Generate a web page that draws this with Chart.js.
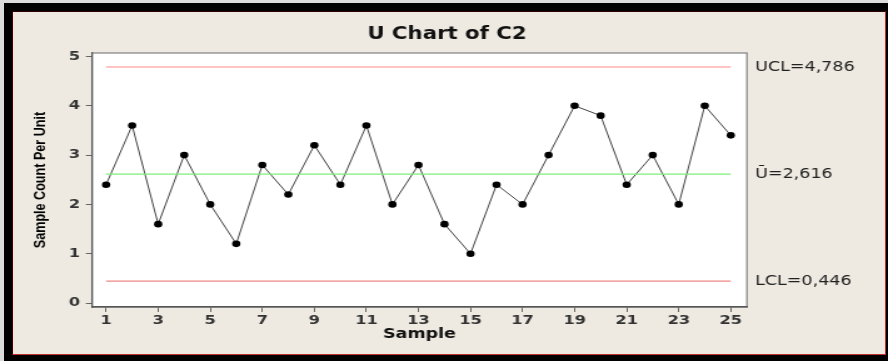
<!DOCTYPE html>
<html>
<head>
<meta charset="utf-8">
<script src="https://cdn.jsdelivr.net/npm/chart.js@4.4.1/dist/chart.umd.min.js"></script>
<style>
  html, body { margin: 0; padding: 0; width: 888px; height: 361px; overflow: hidden; background: #dcdcdc; }
  #frame { position: absolute; left: 4px; top: 3px; width: 884px; height: 358px; background: #000; }
  #panel { position: absolute; left: 12px; top: 11px; width: 874px; height: 344px; box-sizing: border-box;
           background: #eeeae1; border: 1px solid #c23030; border-left-color: #4a0000; border-top-color: #2a0000; }
  /* the reference screenshot is stretched sideways, so the canvas is drawn narrower and widened */
  #chart { position: absolute; left: 0; top: 0; width: 888px !important; height: 361px !important; }
</style>
</head>
<body>
<div id="frame"></div>
<div id="panel"></div>
<canvas id="chart" width="710" height="361"></canvas>
<script>
// data
const samples = [1, 2, 3, 4, 5, 6, 7, 8, 9, 10, 11, 12, 13, 14, 15, 16, 17, 18, 19, 20, 21, 22, 23, 24, 25];
const uValues = [2.4, 3.6, 1.6, 3.0, 2.0, 1.2, 2.8, 2.2, 3.2, 2.4, 3.6, 2.0, 2.8, 1.6, 1.0, 2.4, 2.0, 3.0, 4.0, 3.8, 2.4, 3.0, 2.0, 4.0, 3.4];
const xTickValues = [1, 3, 5, 7, 9, 11, 13, 15, 17, 19, 21, 23, 25];
const yTickValues = [0, 1, 2, 3, 4, 5];
const limitValues = [4.786, 2.616, 0.446];
const limitLabels = ['UCL=4,786', '\u016A=2,616', 'LCL=0,446'];
const limitColors = ['#ffb0b0', '#7cf07c', '#ee8888'];
const limitWidths = [1.6, 1.2, 1.2];

const points = samples.map((s, i) => ({ x: s, y: uValues[i] }));

function limitLine(v) {
    return [{ x: samples[0], y: v }, { x: samples[samples.length - 1], y: v }];
}

const limitSets = limitValues.map((v, i) => ({
    data: limitLine(v),
    borderColor: limitColors[i],
    borderWidth: limitWidths[i],
    pointRadius: 0,
    showLine: true,
    fill: false
}));

const plotBox = {
    id: 'plotBox',
    beforeDraw(chart) {
        const { ctx, chartArea: a } = chart;
        ctx.save();
        ctx.fillStyle = '#ffffff';
        ctx.fillRect(a.left, a.top, a.right - a.left, a.bottom - a.top);
        ctx.strokeStyle = '#8a8a8a';
        ctx.lineWidth = 1.3;
        ctx.strokeRect(a.left, a.top, a.right - a.left, a.bottom - a.top);
        ctx.restore();
    }
};

const tickFont = { family: 'DejaVu Sans', size: 13, weight: 'bold' };

new Chart(document.getElementById('chart'), {
    type: 'scatter',
    data: {
        datasets: [
            ...limitSets,
            {
                data: points,
                showLine: true,
                borderColor: '#444',
                borderWidth: 1,
                pointRadius: 3.3,
                pointBackgroundColor: '#000',
                pointBorderColor: '#000',
                pointBorderWidth: 0
            }
        ]
    },
    options: {
        responsive: false,
        animation: false,
        layout: { padding: { top: 11, left: 25.3, right: 20.5, bottom: 18.6 } },
        plugins: {
            legend: { display: false },
            tooltip: { enabled: false },
            title: {
                display: true,
                text: 'U Chart of C2',
                color: '#111',
                font: { family: 'DejaVu Sans', size: 17, weight: 'bold' },
                padding: { top: 13.3, bottom: 8.3 }
            }
        },
        scales: {
            x: {
                type: 'linear',
                min: 0.46,
                max: 25.62,
                afterBuildTicks: s => { s.ticks = xTickValues.map(v => ({ value: v })); },
                afterFit: s => { s.height = 35.4; },
                ticks: {
                    autoSkip: false,
                    maxRotation: 0,
                    padding: 1,
                    color: '#333',
                    font: tickFont,
                    callback: v => String(v)
                },
                grid: { drawOnChartArea: false, tickLength: 5, color: '#666' },
                border: { color: '#555', width: 1.5 },
                title: {
                    display: true,
                    text: 'Sample',
                    color: '#111',
                    padding: 0,
                    font: { family: 'DejaVu Sans', size: 14, weight: 'bold' }
                }
            },
            y: {
                type: 'linear',
                min: -0.08,
                max: 5.07,
                afterBuildTicks: s => { s.ticks = yTickValues.map(v => ({ value: v })); },
                afterFit: s => { s.width = 48.3; },
                ticks: {
                    padding: 4.5,
                    color: '#333',
                    font: tickFont,
                    callback: v => String(v)
                },
                grid: { drawOnChartArea: false, tickLength: 5, color: '#666' },
                border: { color: '#555', width: 1.2 },
                title: {
                    display: true,
                    text: 'Sample Count Per Unit',
                    color: '#000',
                    padding: 0,
                    font: { family: '"Liberation Sans", Arial, sans-serif', size: 12.6, weight: 'bold' }
                }
            },
            limits: {
                type: 'linear',
                position: 'right',
                min: -0.08,
                max: 5.07,
                afterBuildTicks: s => { s.ticks = limitValues.map(v => ({ value: v })); },
                afterFit: s => { s.width = 92.3; },
                ticks: {
                    padding: 6.5,
                    color: '#222',
                    font: { family: 'DejaVu Sans', size: 14 },
                    callback: v => limitLabels[limitValues.indexOf(v)]
                },
                grid: { display: false, drawTicks: false },
                border: { display: false }
            }
        }
    },
    plugins: [plotBox]
});
</script>
</body>
</html>
